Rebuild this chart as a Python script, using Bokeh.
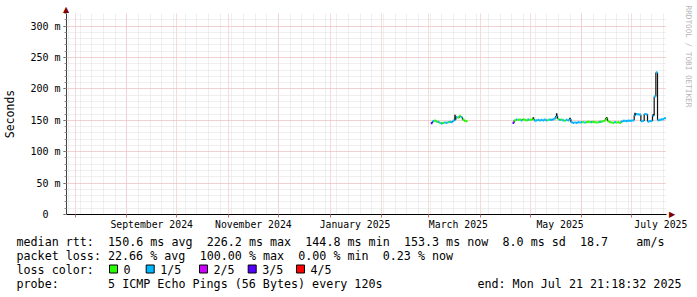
import re
import numpy as np
import pandas as pd
from bokeh.plotting import figure
from bokeh.layouts import column
from bokeh.models import Range1d, FixedTicker, Title
from bokeh.core.properties import value
from bokeh.embed import file_html
from bokeh.resources import INLINE

# ---------------- data ----------------
graph_start = "2024-07-26 21:18:32"
graph_end = "2025-07-21 21:18:32"

# daily median RTT (ms) and loss class (0..4 of 5 pings) - segment 1
seg1_first_day = "2025-03-03"
seg1_rtt_ms = [145.5, 148.5, 149.5, 148.0, 147.5, 146.0, 145.0, 146.0, 146.5, 146.0,
               147.0, 147.5, 147.0, 149.0, 151.0, 155.0, 154.0, 157.0, 155.0, 151.0,
               149.0, 148.5]
seg1_loss = [3, 1, 0, 0, 1, 0, 1, 0, 1, 1,
             0, 1, 1, 1, 1, 1, 0, 0, 1, 0,
             0, 0]

# segment 2 : Apr 21 .. Jul 21 2025
seg2_first_day = "2025-04-21"
seg2_rtt_ms = [
    # Apr 21-30
    146.0, 150.0, 151.0, 150.5, 151.0, 150.0, 151.5, 150.5, 150.0, 151.0,
    # May 1-31
    150.5, 151.0, 152.5, 149.5, 150.0, 150.5, 150.0, 150.5, 150.0, 151.0,
    150.0, 150.5, 151.0, 150.5, 151.5, 153.0, 157.0, 152.0, 150.5, 151.0,
    150.0, 149.5, 150.5, 150.0, 152.0, 147.0, 146.0, 146.5, 146.0, 147.0,
    146.5,
    # Jun 1-30
    147.0, 147.0, 146.5, 147.0, 147.5, 147.0, 147.0, 147.5, 147.0, 146.5,
    147.0, 147.5, 148.0, 148.5, 150.0, 153.5, 148.5, 147.0, 146.5, 146.0,
    147.0, 146.5, 147.0, 146.0, 148.0, 149.0, 149.0, 148.5, 149.5, 149.0,
    # Jul 1-21
    149.5, 150.0, 158.0, 160.0, 159.5, 159.0, 148.5, 149.0, 160.0, 159.5,
    148.0, 148.5, 149.0, 157.5, 188.0, 226.2, 150.0, 150.5, 151.5, 152.0,
    153.3,
]
seg2_loss = [
    3, 0, 1, 0, 0, 1, 0, 0, 0, 1,
    0, 0, 0, 1, 1, 1, 1, 1, 1, 1,
    1, 0, 1, 1, 1, 1, 1, 0, 1, 0,
    1, 0, 1, 1, 1, 1, 1, 1, 1, 1,
    1,
    1, 0, 1, 0, 0, 0, 1, 0, 0, 0,
    0, 1, 0, 0, 0, 0, 0, 0, 0, 0,
    1, 0, 0, 0, 1, 1, 1, 1, 1, 1,
    1, 1, 1, 1, 1, 1, 1, 1, 1, 1,
    1, 1, 1, 1, 1, 1, 1, 1, 1, 1,
    1,
]

# smoke peaks (max ping) on the days with a spread
spike_days = ["2025-03-17", "2025-05-03", "2025-05-17", "2025-05-25",
              "2025-06-16", "2025-07-03", "2025-07-14"]
spike_top_ms = [159.0, 155.0, 161.0, 154.0, 155.0, 162.0, 160.0]

loss_labels = ["0", "1/5", "2/5", "3/5", "4/5"]
loss_colors = ["#26ff00", "#00b8ff", "#cc00ff", "#5500ff", "#ff0000"]

y_ticks = [0, 50, 100, 150, 200, 250, 300]
y_tick_labels = ["0\u00a0\u00a0", "50 m", "100 m", "150 m", "200 m", "250 m", "300 m"]

x_label_days = ["2024-09-16", "2024-11-16", "2025-01-16",
                "2025-03-19", "2025-05-19", "2025-07-18 12:00"]
x_labels = ["September 2024", "November 2024", "January 2025",
            "March 2025", "May 2025", "July 2025"]

legend_rtt = "median rtt:  150.6 ms avg  226.2 ms max  144.8 ms min  153.3 ms now  8.0 ms sd  18.7    am/s"
legend_loss = "packet loss: 22.66 % avg  100.00 % max  0.00 % min  0.23 % now"
legend_color_title = "loss color:"
legend_probe = "probe:       5 ICMP Echo Pings (56 Bytes) every 120s"
legend_end = "end: Mon Jul 21 21:18:32 2025"
watermark = "RRDTOOL / TOBI OETIKER"
y_title = "Seconds"


# ---------------- helpers ----------------
def ms(ts):
    return pd.Timestamp(ts).value / 1e6


def day_ms(first_day, n):
    d = pd.date_range(first_day, periods=n, freq="D")
    return np.array([x.value / 1e6 for x in d])


def no_align(fig):
    if "frame_align" in fig.properties():
        fig.frame_align = False


T0, T1 = ms(graph_start), ms(graph_end)
HALF = 12 * 3600 * 1000.0
MONO = "DejaVu Sans Mono"
ARROW_C = "#7f0000"

W = 697
MAIN_H = 232
FL, FR, FT, FB = 66, 666, 13, 215   # frame pixel box of the main plot

p = figure(width=W, height=MAIN_H, x_axis_type="datetime",
           x_range=Range1d(T0, T1), y_range=Range1d(0, 320),
           output_backend="svg", toolbar_location=None,
           min_border_left=FL, min_border_right=W - FR,
           min_border_top=FT, min_border_bottom=MAIN_H - FB)
no_align(p)
p.background_fill_color = "white"
p.border_fill_color = "white"
p.outline_line_color = None

# arrow head on top of the y axis (title slot above the frame)
p.title.text = "\u25b2"
p.title.text_font = "DejaVu Sans"
p.title.text_font_size = "8px"
p.title.text_font_style = "normal"
p.title.text_color = ARROW_C
p.title.align = "left"
p.title.offset = -3.5
p.title.standoff = 0

# arrow head at the end of the x axis, and the watermark (right side)
p.add_layout(Title(text="\u25b2", text_font="DejaVu Sans", text_font_size="8px",
                   text_font_style="normal", text_color=ARROW_C,
                   align="right", offset=-3.5, standoff=3.5), "right")
p.add_layout(Title(text=watermark, text_font=MONO, text_font_size="7.7px",
                   text_font_style="normal", text_color="#b4b4b4",
                   align="left", offset=-8, standoff=4.5), "right")

# y axis
p.yaxis.ticker = FixedTicker(ticks=y_ticks, minor_ticks=list(range(0, 321, 10)))
p.yaxis.major_label_overrides = {t: l for t, l in zip(y_ticks, y_tick_labels)}
p.yaxis.major_label_text_font = MONO
p.yaxis.major_label_text_font_size = "10px"
p.yaxis.major_label_text_color = "black"
p.yaxis.major_label_standoff = 3
p.yaxis.axis_line_color = "#404040"
p.yaxis.major_tick_out = 3
p.yaxis.major_tick_in = 0
p.yaxis.minor_tick_out = 2
p.yaxis.minor_tick_in = 0
p.yaxis.major_tick_line_color = "#404040"
p.yaxis.minor_tick_line_color = "#909090"
p.yaxis.axis_label = y_title
p.yaxis.axis_label_text_font = MONO
p.yaxis.axis_label_text_font_size = "11.5px"
p.yaxis.axis_label_text_font_style = "normal"
p.yaxis.axis_label_text_color = "black"
p.yaxis.axis_label_standoff = 10

# x axis
month_starts = pd.date_range("2024-08-01", "2025-07-01", freq="MS")
month_ms = [m.value / 1e6 for m in month_starts]
sundays = pd.date_range("2024-07-28", "2025-07-20", freq="7D")
sunday_ms = [s.value / 1e6 for s in sundays]
label_ms = [ms(d) for d in x_label_days]

p.xaxis.ticker = FixedTicker(ticks=label_ms, minor_ticks=month_ms)
p.xaxis.major_label_overrides = {t: l for t, l in zip(label_ms, x_labels)}
p.xaxis.major_label_text_font = MONO
p.xaxis.major_label_text_font_size = "9.8px"
p.xaxis.major_label_text_color = "black"
p.xaxis.major_label_standoff = 1
p.xaxis.major_tick_out = 0
p.xaxis.major_tick_in = 0
p.xaxis.major_tick_line_color = None
p.xaxis.minor_tick_out = 3
p.xaxis.minor_tick_in = 0
p.xaxis.minor_tick_line_color = "#c07070"
p.xaxis.axis_line_color = "black"

# grids
p.ygrid.ticker = FixedTicker(ticks=y_ticks, minor_ticks=list(range(0, 321, 10)))
p.xgrid.ticker = FixedTicker(ticks=month_ms, minor_ticks=sunday_ms)
for g in (p.xgrid, p.ygrid):
    g.grid_line_color = "#f0b4b4"
    g.grid_line_dash = "1 1"
    g.grid_line_alpha = 1.0
    g.minor_grid_line_color = "#dedede"
    g.minor_grid_line_dash = "1 1"

# data
for first, rtt, loss in ((seg1_first_day, seg1_rtt_ms, seg1_loss),
                         (seg2_first_day, seg2_rtt_ms, seg2_loss)):
    t = day_ms(first, len(rtt))
    r = np.array(rtt)
    p.segment(x0=t[:-1] + HALF, y0=r[:-1], x1=t[:-1] + HALF, y1=r[1:],
              line_color="#111111", line_width=1.2)
    cols = [loss_colors[k] for k in loss]
    p.segment(x0=t - HALF, y0=r, x1=t + HALF, y1=r,
              line_color=cols, line_width=2.2)

all_rtt = {}
for first, rtt in ((seg1_first_day, seg1_rtt_ms), (seg2_first_day, seg2_rtt_ms)):
    for tt, v in zip(day_ms(first, len(rtt)), rtt):
        all_rtt[tt] = v
sp_t = np.array([ms(d) for d in spike_days])
sp_base = np.array([all_rtt[tt] for tt in sp_t])
p.segment(x0=sp_t, y0=sp_base, x1=sp_t, y1=np.array(spike_top_ms),
          line_color="#111111", line_width=1.5)

# ---------------- legend panel (pixel coordinates) ----------------
LEG_H = 297 - MAIN_H
q = figure(width=W, height=LEG_H, x_range=Range1d(0, W), y_range=Range1d(LEG_H, 0),
           output_backend="svg", toolbar_location=None, title=None,
           x_axis_location=None, y_axis_location=None,
           min_border_left=0, min_border_right=0, min_border_top=0, min_border_bottom=0)
no_align(q)
q.grid.visible = False
q.outline_line_color = None
q.background_fill_color = "white"
q.border_fill_color = "white"

LEG_FS = "11.7px"
CHAR_W = 0.602 * 11.7
LEFT = 16
row_y = [241 - MAIN_H, 255 - MAIN_H, 269 - MAIN_H, 283 - MAIN_H]

tok_x, tok_y, tok_t = [], [], []
for line, ry in ((legend_rtt, row_y[0]), (legend_loss, row_y[1]),
                 (legend_color_title, row_y[2]), (legend_probe, row_y[3])):
    for m in re.finditer(r"\S+(?: \S+)*", line):
        tok_x.append(LEFT + m.start() * CHAR_W)
        tok_y.append(ry)
        tok_t.append(m.group(0))
q.text(x=tok_x, y=tok_y, text=tok_t,
       text_font=value(MONO), text_font_size=value(LEG_FS), text_color="black",
       text_align="left", text_baseline="middle")
q.text(x=[681], y=[row_y[3]], text=[legend_end],
       text_font=value(MONO), text_font_size=value(LEG_FS), text_color="black",
       text_align="right", text_baseline="middle")

swatch_px = np.array([109, 145.7, 199, 247.7, 296])
q.quad(left=swatch_px, right=swatch_px + 8,
       top=[row_y[2] - 4.5] * 5, bottom=[row_y[2] + 3.5] * 5,
       fill_color=loss_colors, line_color="black", line_width=1)
q.text(x=swatch_px + 14, y=[row_y[2]] * 5, text=loss_labels,
       text_font=value(MONO), text_font_size=value(LEG_FS), text_color="black",
       text_align="left", text_baseline="middle")

layout = column(p, q, spacing=0)
open("out.html", "w").write(file_html(layout, INLINE))
